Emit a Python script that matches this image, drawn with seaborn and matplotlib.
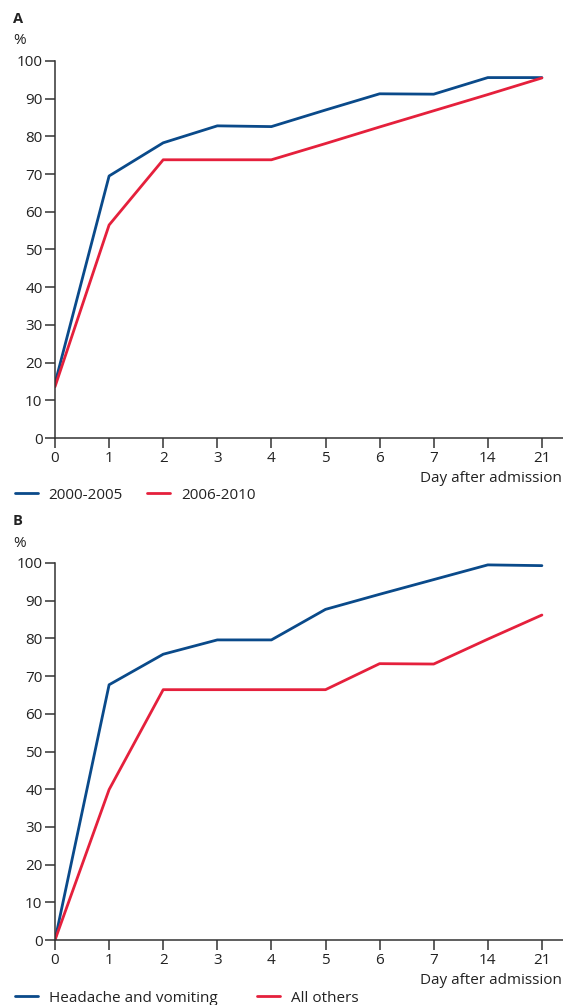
import matplotlib
matplotlib.use("Agg")
import matplotlib.pyplot as plt
import seaborn as sns
import pandas as pd

days = ["0", "1", "2", "3", "4", "5", "6", "7", "14", "21"]

# Panel A: by admission period
a_2000_2005 = [14.5, 69.5, 78.3, 82.8, 82.6, 87.0, 91.3, 91.2, 95.6, 95.6]
a_2006_2010 = [13.6, 56.5, 73.8, 73.8, 73.8, 78.1, 82.5, 86.8, 91.1, 95.5]
a_labels = ["2000-2005", "2006-2010"]

# Panel B: by presenting symptoms
b_headache = [0.0, 67.7, 75.8, 79.6, 79.6, 87.7, 91.7, 95.6, 99.5, 99.3]
b_others = [0.0, 39.9, 66.4, 66.4, 66.4, 66.4, 73.3, 73.2, 79.8, 86.2]
b_labels = ["Headache and vomiting", "All others"]

y_ticks = [0, 10, 20, 30, 40, 50, 60, 70, 80, 90, 100]

BLUE = "#0a4a8a"
RED = "#e5203c"
INK = "#333333"
TEXT = "#222222"

sns.set_theme(style="white")
plt.rcParams["font.family"] = ["Open Sans", "DejaVu Sans"]
plt.rcParams["axes.edgecolor"] = INK
plt.rcParams["axes.linewidth"] = 1.1

W, H = 563, 1005
fig = plt.figure(figsize=(W / 100, H / 100), dpi=100)


def frame(series_a, series_b, labels):
    rows = []
    for lab, vals in zip(labels, (series_a, series_b)):
        for d, v in zip(days, vals):
            rows.append({"day": d, "pct": v, "group": lab})
    return pd.DataFrame(rows)


def panel(top_px, bottom_px, df, labels, letter, legend_y_px, colspace):
    left = 55 / W
    ax = fig.add_axes([left, 1 - bottom_px / H, 1 - left, (bottom_px - top_px) / H])
    sns.lineplot(data=df, x="day", y="pct", hue="group", hue_order=labels,
                 palette=[BLUE, RED], linewidth=2.0, ax=ax, legend=False,
                 sort=False)
    ax.set_xlim(0, 9.39)
    ax.set_ylim(0, 100)
    ax.set_yticks(y_ticks)
    ax.set_xticks(range(len(days)))
    ax.set_xticklabels(days)
    ax.set_xlabel("")
    ax.set_ylabel("")
    for s in ("top", "right"):
        ax.spines[s].set_visible(False)
    ax.spines["left"].set_bounds(0, 100)
    ax.tick_params(axis="both", which="major", length=7, width=1.1,
                   labelsize=11, colors=INK, labelcolor=TEXT,
                   left=True, bottom=True, pad=2)
    # Panel letter and unit label
    fig.text(13 / W, 1 - (top_px - 42) / H, letter, fontsize=10.5,
             fontweight="bold", color=TEXT, va="center", ha="left")
    fig.text(13 / W, 1 - (top_px - 20) / H, "%", fontsize=11,
             color=TEXT, va="center", ha="left")
    fig.text(1 - 1 / W, 1 - (bottom_px + 40) / H, "Day after admission",
             fontsize=11, color=TEXT, va="center", ha="right")
    handles = ax.get_lines()[:2]
    fig.legend(handles, labels, loc="center left",
               bbox_to_anchor=(15 / W, 1 - legend_y_px / H),
               bbox_transform=fig.transFigure, ncol=2, frameon=False,
               handlelength=1.5, handletextpad=0.7, columnspacing=colspace,
               fontsize=11, labelcolor=TEXT, borderaxespad=0, borderpad=0)
    return ax


panel(61, 438, frame(a_2000_2005, a_2006_2010, a_labels), a_labels, "A", 495, 1.6)
panel(563, 940, frame(b_headache, b_others, b_labels), b_labels, "B", 998, 2.6)

fig.savefig("out.png", dpi=100)
